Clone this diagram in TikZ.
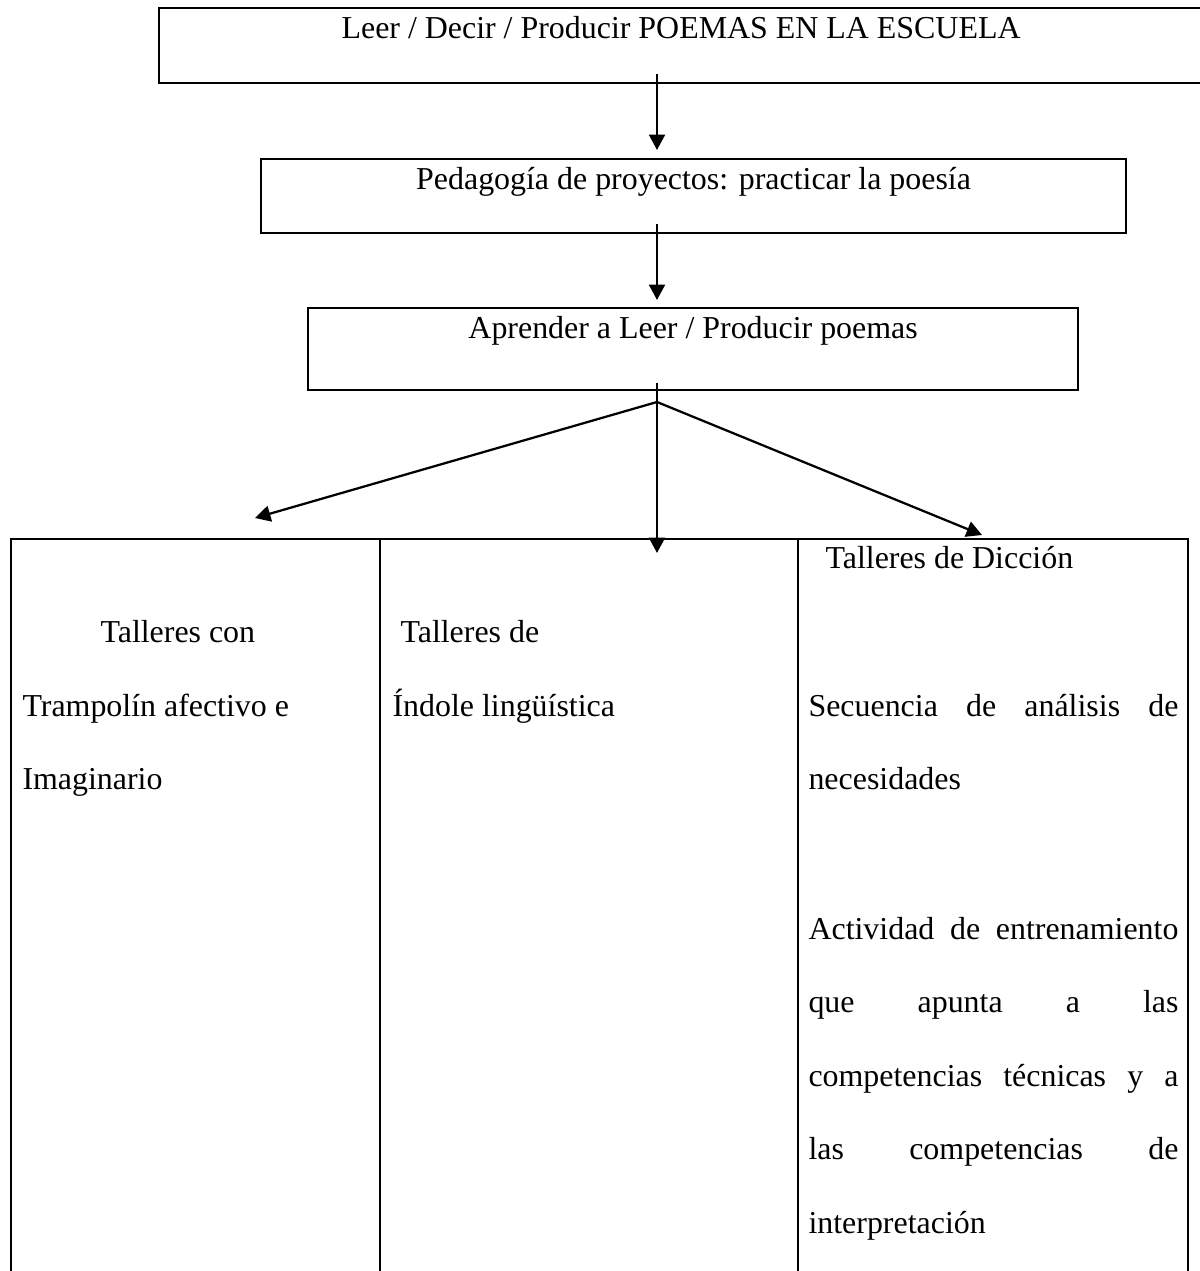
\documentclass[tikz,border=0pt]{standalone}
\usepackage{fontspec}
\setmainfont{Liberation Serif}
\usetikzlibrary{arrows.meta, positioning, calc}

\tikzset{
  box/.style={draw, rectangle, line width=0.85pt, inner sep=0pt, anchor=north west, text height=11.28pt},
  arr/.style={-{Triangle[length=5.8pt, width=6pt]}, line width=0.85pt},
  rule/.style={line width=0.85pt},
  cell/.style={anchor=base west, inner sep=0pt},
}
\newcommand{\colline}[1]{\makebox[139.1pt][s]{#1}}

\begin{document}
\begin{tikzpicture}[x=0.376pt, y=-0.376pt, every node/.style={font=\fontsize{12}{14}\selectfont}]
        \useasboundingbox (0,0) rectangle (1200,1271);

        % the three boxes
        \node[box, minimum width=392.5pt, text depth=16.92pt] (leer) at (158,7) {Leer / Decir / Producir POEMAS EN LA ESCUELA};
        \node[box, minimum width=325.2pt, text depth=16.54pt] (ped) at (260,158) {Pedagogía de proyectos: practicar la poesía};
        \node[box, minimum width=289.5pt, text depth=19.55pt] (apr) at (307,307) {Aprender a Leer / Producir poemas};

        \coordinate (stem) at (657,0);
        \coordinate (fork) at (657,402);
        \coordinate (tipL) at (255,518);
        \coordinate (tipM) at (657,553);
        \coordinate (tipR) at (982,535);

        \draw[arr] ($(leer.south -| stem)+(0,-10)$) -- ($(ped.north -| stem)+(0,-8)$);
        \draw[arr] ($(ped.south -| stem)+(0,-10)$) -- ($(apr.north -| stem)+(0,-7)$);
        \draw[arr] ($(apr.south -| stem)+(0,-8)$) -- (tipM);
        \draw[arr] (fork) -- (tipL);
        \draw[arr] (fork) -- (tipR);

        % table, open at the bottom
        \draw[rule] (11,1280) |- (1188,539) -- (1188,1280);
        \foreach \x in {380,798}
            \draw[rule] (\x,539) -- (\x,1280);

        \node[cell] (con1) at (100,642) {Talleres con};
        \node[cell] (con2) at (22,716) {Trampolín afectivo e};
        \node[cell] (con3) at (22,789) {Imaginario};

        \node[cell] (ind1) at (400,642) {Talleres de};
        \node[cell] (ind2) at (392,716) {Índole lingüística};

        \node[cell] (dic1) at (825,568) {Talleres de Dicción};
        \node[cell] (dic2) at (808,716) {\colline{Secuencia de análisis de}};
        \node[cell] (dic3) at (808,789) {necesidades};
        \node[cell] (dic4) at (808,939) {\colline{Actividad de entrenamiento}};
        \node[cell] (dic5) at (808,1012) {\colline{que apunta a las}};
        \node[cell] (dic6) at (808,1086) {\colline{competencias técnicas y a}};
        \node[cell] (dic7) at (808,1159) {\colline{las competencias de}};
        \node[cell] (dic8) at (808,1233) {interpretación};
\end{tikzpicture}
\end{document}
